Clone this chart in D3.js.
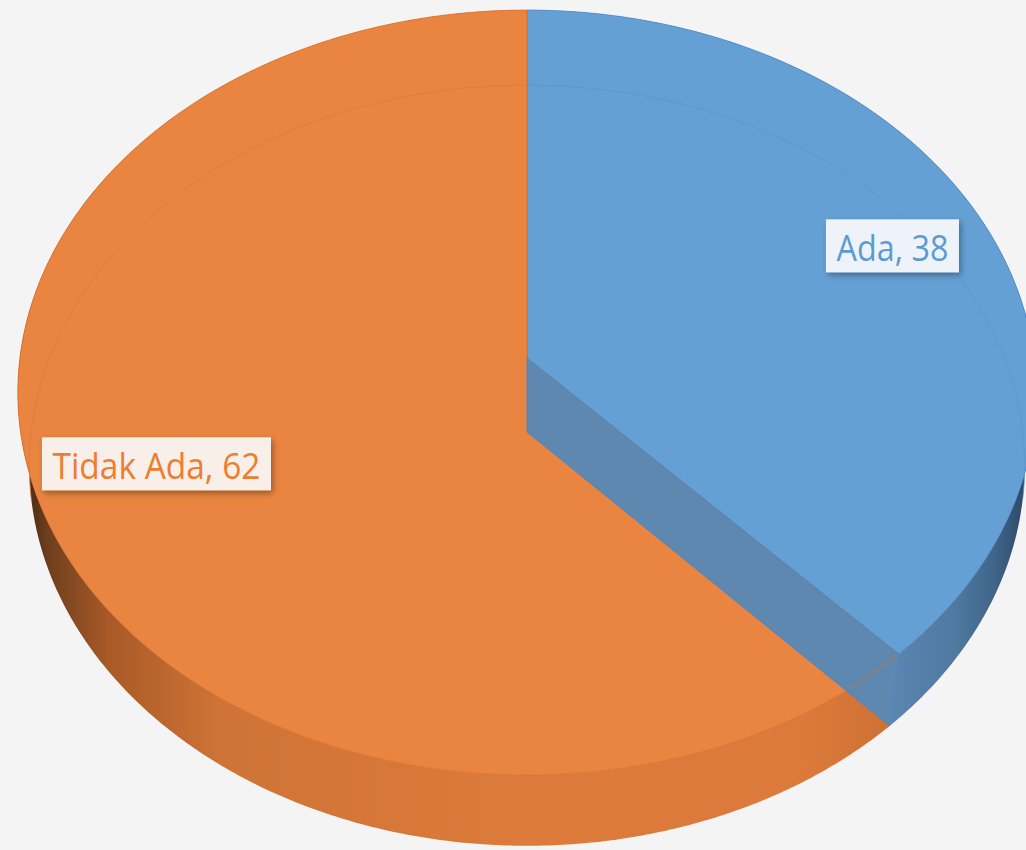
<!DOCTYPE html>
<html>
<head>
<meta charset="utf-8">
<script src="https://cdn.jsdelivr.net/npm/d3@7/dist/d3.min.js"></script>
<style>
  html, body { margin: 0; padding: 0; background: #f4f4f4; }
  svg { display: block; }
</style>
</head>
<body>
<svg id="chart" width="1026" height="850"></svg>
<script>
// Slice data
const categories = ["Ada", "Tidak Ada"];
const values = [38, 62];
const topColors = ["#65a0d4", "#e98540"];
const edgeColors = ["#4b89c9", "#d9702c"];
const labelTextColors = ["#5b9bd5", "#ed7d31"];
const labelFills = ["#eef3f9", "#f8efe8"];

const W = 1026, H = 850;
const svg = d3.select("#chart");

// Perspective camera looking down on a unit-radius disk
const cam = { cx: 527, cy: 358, f: 3727, D: 7.35, sinA: 0.748, cosA: 0.663 };
const thickness = 0.225;

// t: angle clockwise from 12 o'clock, r: radius fraction, z: height (0 = top)
function project(t, r, z) {
  const u = r * Math.sin(t), y = r * Math.cos(t);
  const depth = cam.D + y * cam.cosA - z * cam.sinA;
  const yc = y * cam.sinA + z * cam.cosA;
  return [cam.cx + cam.f * u / depth, cam.cy - cam.f * yc / depth];
}

function arcPoints(t0, t1, r, z) {
  const n = Math.max(2, Math.ceil(Math.abs(t1 - t0) / (Math.PI / 360)));
  return d3.range(n + 1).map(i => project(t0 + (t1 - t0) * i / n, r, z));
}

const line = d3.line();
const pie = d3.pie().sort(null).value(d => d)(values);

const defs = svg.append("defs");

// Side-wall shading, darker toward the silhouette edges
const sideStops = [
  [
    [0.86, "#5c87b1"], [0.93, "#4f79a1"], [0.97, "#3f6488"], [1.0, "#2c4866"]
  ],
  [
    [0.0, "#3a220f"], [0.03, "#6e3f1d"], [0.09, "#a95a27"], [0.2, "#cf7336"],
    [0.5, "#dc7b3b"], [0.78, "#db7a3a"], [0.87, "#cd7035"]
  ]
];
sideStops.forEach((stops, i) => {
  const g = defs.append("linearGradient")
    .attr("id", "side" + i)
    .attr("gradientUnits", "userSpaceOnUse")
    .attr("x1", 18).attr("y1", 0).attr("x2", W).attr("y2", 0);
  stops.forEach(([o, c]) => g.append("stop").attr("offset", o).attr("stop-color", c));
});

const shadow = defs.append("filter").attr("id", "labelShadow")
  .attr("x", "-20%").attr("y", "-30%").attr("width", "150%").attr("height", "180%");
shadow.append("feDropShadow").attr("dx", 2).attr("dy", 3)
  .attr("stdDeviation", 3).attr("flood-color", "#000").attr("flood-opacity", 0.35);

const g = svg.append("g");

// Outer side walls
pie.forEach((s, i) => {
  const pts = arcPoints(s.startAngle, s.endAngle, 1, 0)
    .concat(arcPoints(s.endAngle, s.startAngle, 1, -thickness));
  g.append("path")
    .attr("d", line(pts) + "Z")
    .attr("fill", `url(#side${i})`);
});

// Top faces
pie.forEach((s, i) => {
  const apex = project(0, 0, 0);
  const pts = [apex].concat(arcPoints(s.startAngle, s.endAngle, 1, 0));
  g.append("path")
    .attr("d", line(pts) + "Z")
    .attr("fill", topColors[i])
    .attr("stroke", edgeColors[i])
    .attr("stroke-width", 0.8)
    .attr("stroke-linejoin", "round");
});

// Far bottom rim, faintly visible through the top faces
const rimSpans = [[0, 100 * Math.PI / 180], [260 * Math.PI / 180, 2 * Math.PI]];
const rimColors = ["#5a94cc", "#de7a37"];
rimSpans.forEach((sp, i) => {
  g.append("path")
    .attr("d", line(arcPoints(sp[0], sp[1], 1, -thickness)))
    .attr("fill", "none")
    .attr("stroke", rimColors[i])
    .attr("stroke-width", 1)
    .attr("opacity", 0.75);
});

// Radial cut face at the end of the first slice
const cut = pie[0].endAngle;
const wallPts = [
  project(cut, 0, 0), project(cut, 1, 0),
  project(cut, 1, -thickness), project(cut, 0, -thickness)
];
g.append("path")
  .attr("d", line(wallPts) + "Z")
  .attr("fill", "#5f88b1")
  .attr("stroke", "#4a86c6")
  .attr("stroke-width", 0.9)
  .attr("stroke-linejoin", "round");

// Rim of the second slice seen through the cut face
g.append("path")
  .attr("d", line(arcPoints(cut, cut + 0.12, 1, 0)))
  .attr("fill", "none")
  .attr("stroke", "#d9702c")
  .attr("stroke-width", 1)
  .attr("opacity", 0.85);

// Data labels
const labelWidths = [112, 208];
pie.forEach((s, i) => {
  const mid = (s.startAngle + s.endAngle) / 2;
  const [px, py] = project(mid, 0.78, 0);
  const lx = px + 7, ly = py - 6;
  const tw = labelWidths[i];
  const bw = tw + 21, bh = 53;
  const lg = svg.append("g").attr("transform", `translate(${lx},${ly})`);
  lg.append("rect")
    .attr("x", -bw / 2).attr("y", -bh / 2)
    .attr("width", bw).attr("height", bh)
    .attr("fill", labelFills[i])
    .attr("filter", "url(#labelShadow)");
  lg.append("text")
    .attr("x", -tw / 2).attr("y", 15)
    .attr("textLength", tw)
    .attr("lengthAdjust", "spacingAndGlyphs")
    .attr("font-family", "'Open Sans', 'Noto Sans', sans-serif")
    .attr("font-size", 37)
    .attr("fill", labelTextColors[i])
    .text(`${categories[i]}, ${values[i]}`);
});
</script>
</body>
</html>
